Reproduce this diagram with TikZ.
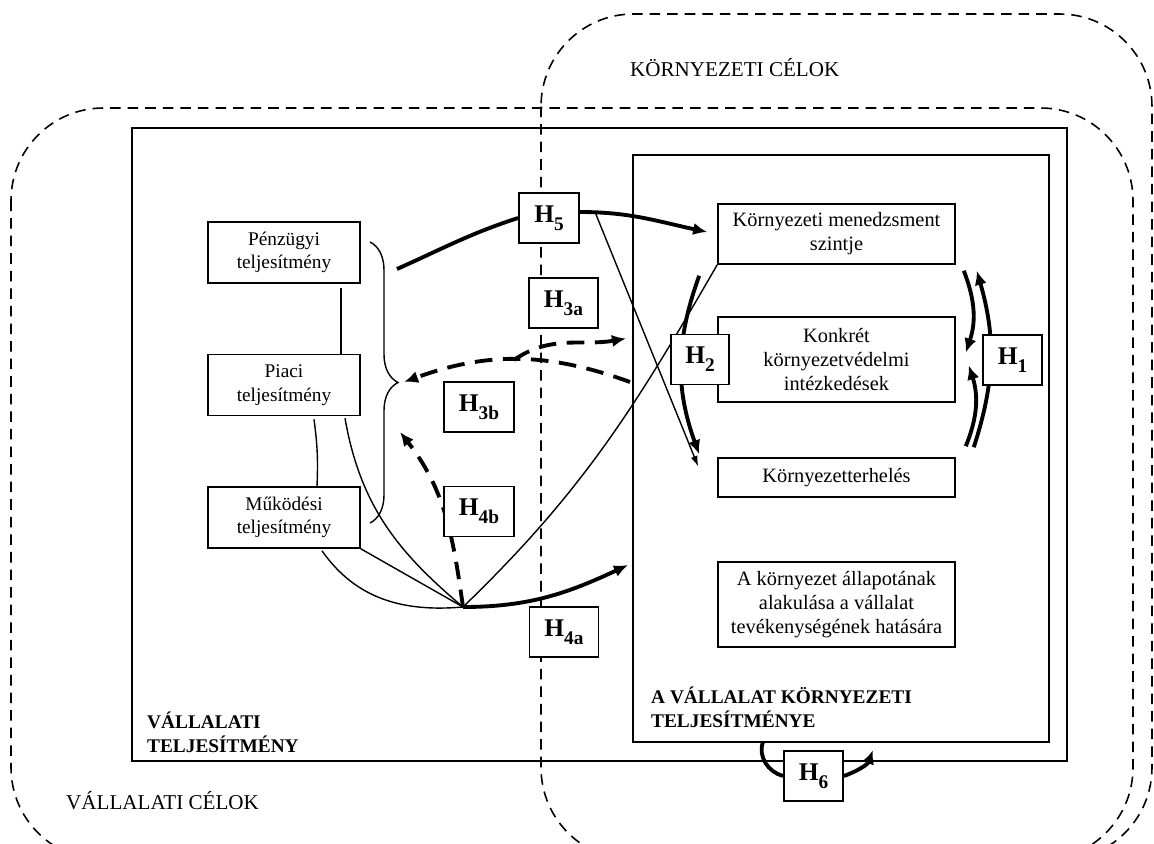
\documentclass[tikz,border=0pt]{standalone}
\usepackage{fontspec}
\setmainfont{Liberation Serif}
\usetikzlibrary{arrows.meta,calc,decorations.pathreplacing,backgrounds}

\tikzset{
  txtbox/.style={draw, fill=white, line width=0.9pt, align=center, inner sep=1pt,
    font=\fontsize{11}{13.3}\selectfont},
  lbox/.style={txtbox, minimum width=3.04cm, minimum height=1.22cm},
  rbox/.style={txtbox, minimum width=4.74cm, font=\fontsize{11.6}{13.6}\selectfont},
  hbox/.style={draw, fill=white, line width=1.1pt, inner sep=0pt,
    minimum width=1.2cm, minimum height=1cm, font=\fontsize{14.5}{17}\selectfont\bfseries},
  thinln/.style={line width=0.8pt},
  thickln/.style={line width=2.2pt},
  tip/.style={-{Latex[length=8pt,width=7pt]}},
  smalltip/.style={-{Latex[length=6pt,width=4pt]}},
  dashln/.style={thickln, dash pattern=on 10pt off 6pt},
  goal/.style={line width=0.9pt, dash pattern=on 6pt off 4pt, rounded corners=1.85cm},
  goallab/.style={anchor=west, font=\fontsize{12}{14}\selectfont},
  arealab/.style={anchor=west, align=left, font=\fontsize{11}{13.5}\selectfont\bfseries}
}
\newcommand{\hlab}[1]{H\raisebox{-4.5pt}{\fontsize{11}{11}\selectfont #1}}

\begin{document}
\begin{tikzpicture}[x=0.2mm,y=-0.2mm]
  \useasboundingbox (0,0) rectangle (1154,844);

  % teljesitmeny boxes
  \node[lbox] (penz) at (284,252.5) {Pénzügyi\\teljesítmény};
  \node[lbox] (piaci) at (284,385) {Piaci\\teljesítmény};
  \node[lbox] (mukod) at (284,517.5) {Működési\\teljesítmény};

  \node[rbox, minimum height=1.2cm] (menedz) at (836.5,234) {Környezeti menedzsment\\szintje};
  \node[rbox, minimum height=1.7cm] (konkret) at (836.5,359.5) {Konkrét\\környezetvédelmi\\intézkedések};
  \node[rbox, minimum height=0.78cm] (terh) at (836.5,477.5) {Környezetterhelés};
  \node[rbox, minimum height=1.7cm] (allapot) at (836.5,604.5) {A környezet állapotának\\alakulása a vállalat\\tevékenységének hatására};

  % hypotheses
  \node[hbox] (H5) at (549,218) {\hlab{5}};
  \node[hbox, minimum width=1.38cm] (H3a) at (563.5,303) {\hlab{3a}};
  \node[hbox, minimum width=1.4cm] (H3b) at (479,407) {\hlab{3b}};
  \node[hbox, minimum width=1.4cm] (H4b) at (479,511.5) {\hlab{4b}};
  \node[hbox, minimum width=1.38cm] (H4a) at (564,632) {\hlab{4a}};
  \node[hbox, minimum width=1.16cm] (H2) at (700,359.5) {\hlab{2}};
  \node[hbox, minimum width=1.18cm] (H1) at (1012.5,360) {\hlab{1}};
  \node[hbox, minimum width=1.18cm] (H6) at (813.5,776) {\hlab{6}};

  % labels
  \node[goallab] (kcel) at (624,68) {KÖRNYEZETI CÉLOK};
  \node[goallab] (vcel) at (60,801) {VÁLLALATI CÉLOK};
  \node[arealab] (vtelj) at (141,732) {VÁLLALATI\\TELJESÍTMÉNY};
  \node[arealab] (ktelj) at (645,707) {A VÁLLALAT KÖRNYEZETI\\TELJESÍTMÉNYE};

  % free ends
  \coordinate (hub) at (463,607);
  \coordinate (bracetip) at (404,382);
  \coordinate (h5start) at (397,269);
  \coordinate (h5fork) at (595,212);
  \coordinate (h3afork) at (514,360);
  \coordinate (h3aend) at (626,338.5);
  \coordinate (h3bstart) at (630,382);
  \coordinate (h4aend) at (628,565);
  \coordinate (h4bend) at (400,432);
  \coordinate (h6start) at (763,742);
  \coordinate (h6end) at (873,750);

  \begin{scope}[on background layer]
    \draw[goal] (11,108) rectangle (1133,860);
    \draw[goal] (541,14) rectangle (1152,860);
    \draw[line width=1.1pt] (132,128) rectangle (1067,761);
    \draw[line width=1.1pt] (633,155) rectangle (1049,742);

    \draw[thinln, decorate, decoration={brace, amplitude=0.56cm}] (370,242) -- (370,523);
    \draw[thinln] ($(penz.south)+(57,4)$) -- ($(piaci.north)+(57,0)$);
    \draw[thinln] ($(piaci.south)+(30,3)$) to[bend left=5] ($(mukod.north)+(33,0)$);

    % H5
    \draw[thickln] (h5start) to[out=24,in=198] (H5.west);
    \draw[thickln, tip] ($(H5.east)+(0,-6)$) to[out=0,in=168] ($(menedz.west)+(-10,-2)$);
    \draw[thinln, smalltip] (h5fork) -- ($(terh.west)+(-19,-11)$);

    % H2, H1
    \draw[thickln, tip] ($(menedz.south west)+(-18,11)$) to[bend right=20] ($(terh.north west)+(-18,-3)$);
    \draw[thickln, tip] ($(terh.north east)+(18,-10)$) to[bend right=17] ($(menedz.south east)+(21,6)$);
    \draw[thickln, tip] ($(menedz.south east)+(8,6)$) to[bend left=20] ($(konkret.east)+(10,-7)$);
    \draw[thickln, tip] ($(terh.north east)+(10,-11)$) to[bend right=20] ($(konkret.east)+(13,6)$);

    % H3a, H3b
    \draw[dashln, tip] (h3afork) to[out=35,in=190] (h3aend);
    \draw[dashln, tip] (h3bstart) to[bend right=20] (bracetip);

    % H4
    \draw[thinln] ($(mukod.south)+(38,2)$) to[out=-55,in=185] (hub);
    \draw[thinln] (mukod.south east) -- (hub);
    \draw[thinln] ($(piaci.south)+(61,2)$) to[out=-80,in=140] (hub);
    \draw[thinln] (hub) to[out=44,in=240] (menedz.south west);
    \draw[dashln, tip] (hub) to[out=98,in=-52] (h4bend);
    \draw[thickln, tip] (hub) to[out=0,in=205] (h4aend);

    % H6
    \draw[thickln] (h6start) to[out=-110,in=165] (H6.west);
    \draw[thickln, tip] (H6.east) to[out=20,in=-110] (h6end);
  \end{scope}
\end{tikzpicture}
\end{document}
